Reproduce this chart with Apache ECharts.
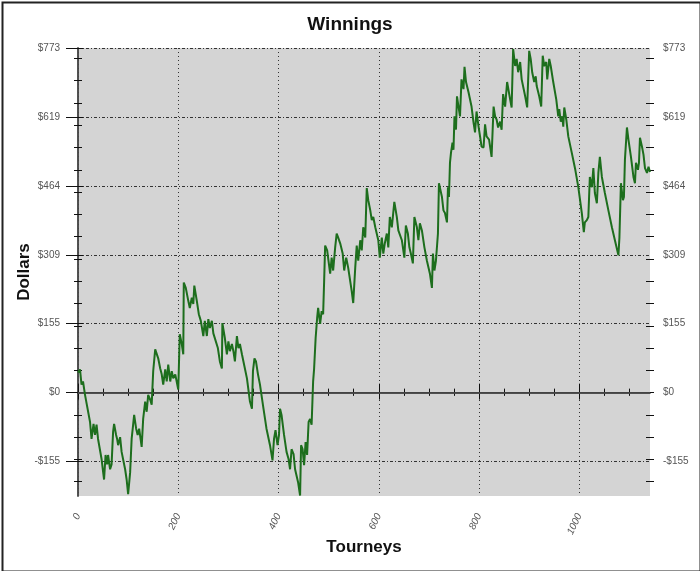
<!DOCTYPE html>
<html><head><meta charset="utf-8">
<script src="https://cdn.jsdelivr.net/npm/echarts@6/dist/echarts.min.js"></script>
<style>html,body{margin:0;padding:0;background:#fff}#c{width:700px;height:571px}</style>
</head><body><div id="c"></div>
<script>
const tourneys = [0,4,7,10,14,24,27,31,34,37,40,47,52,55,58,60,64,67,70,72,76,78,80,84,87,94,97,100,104,107,110,112,116,119,122,127,130,134,137,140,144,147,150,154,157,160,164,167,170,174,177,180,184,187,190,194,200,203,207,210,211,215,220,223,227,230,232,237,241,245,250,253,257,260,263,267,270,273,279,283,287,288,293,297,300,303,307,310,313,317,320,323,327,330,337,343,347,349,352,355,359,363,370,376,383,388,391,394,398,401,403,406,411,416,420,423,426,430,433,439,443,445,448,451,454,457,460,463,466,469,471,474,477,479,483,486,489,491,493,497,503,506,509,513,516,519,523,528,531,535,539,546,549,553,556,559,563,566,569,573,576,579,583,586,589,593,599,602,606,609,612,616,619,622,626,631,636,639,642,646,651,654,658,661,664,668,671,676,679,682,686,691,696,702,706,708,711,714,718,720,726,729,732,736,738,740,742,744,747,749,751,754,756,759,762,765,769,771,774,779,785,789,792,795,799,802,805,809,812,815,820,825,829,832,835,838,842,845,848,852,856,862,865,868,872,875,878,882,885,892,896,900,903,906,910,913,915,920,924,927,930,934,936,940,943,948,954,958,960,963,966,968,970,974,978,985,992,998,1005,1009,1011,1015,1018,1021,1025,1028,1031,1035,1038,1041,1045,1051,1058,1065,1071,1078,1080,1083,1087,1089,1091,1095,1098,1103,1108,1111,1113,1117,1119,1121,1125,1128,1131,1135,1138,1141];
const dollars = [45,52,18,25,-5,-66,-104,-70,-95,-72,-104,-149,-195,-140,-161,-140,-172,-161,-88,-70,-95,-104,-118,-100,-133,-172,-195,-228,-179,-104,-72,-50,-81,-95,-81,-122,-59,-20,-43,-5,-16,-27,48,97,93,77,54,41,18,52,25,63,25,48,32,41,7,131,109,86,247,235,206,190,213,199,240,206,176,161,127,161,127,165,145,161,133,131,100,70,54,156,122,86,115,93,109,93,70,127,100,109,86,70,32,-20,-36,48,77,70,41,18,-36,-81,-118,-152,-104,-84,-118,-95,-36,-50,-95,-133,-149,-172,-127,-138,-172,-201,-231,-118,-127,-163,-111,-140,-66,-59,-72,25,54,122,167,190,154,183,176,251,330,319,267,303,274,326,357,348,335,312,274,303,280,228,201,280,330,296,342,319,371,348,459,432,409,387,394,371,342,303,348,312,335,357,326,394,371,428,394,364,360,342,303,375,357,326,312,290,394,371,342,380,364,326,296,267,235,312,274,296,357,470,439,409,403,382,461,439,516,538,561,545,620,590,665,642,620,703,681,731,697,674,642,606,584,631,597,575,552,550,602,575,568,529,642,620,613,595,608,590,670,642,697,658,640,771,733,749,719,742,703,665,640,767,749,719,697,710,688,665,642,756,733,742,703,749,733,697,658,620,636,608,620,597,640,613,575,538,500,461,403,360,382,387,394,484,461,504,448,425,493,529,484,448,409,371,342,308,348,470,432,439,523,595,568,529,484,470,516,500,516,572,552,534,504,493,507,495];
const xTicks = [0,200,400,600,800,1000];
const xMinor = [0,50,100,150,200,250,300,350,400,450,500,550,600,650,700,750,800,850,900,950,1000,1050,1100];
const yTicks = [-154.68,0,154.68,309.36,464.04,618.72,773.4];
const yMinor = [-200,-150,-100,-50,0,50,100,150,200,250,300,350,400,450,500,550,600,650,700,750];
const xMin = 0, xMax = 1141, yMin = -232, yMax = 773.4;

const fmt = v => (v < -0.01 ? '-$' : '$') + Math.round(Math.abs(v));
const labelFont = {fontFamily: '"Liberation Sans Narrow", "Liberation Sans", Arial, sans-serif', fontSize: 10, color: '#555'};

function tickAxis(base, vals, inside, len, color) {
  return {
    type: 'value', min: base.min, max: base.max, position: base.position,
    axisLine: {show: false}, splitLine: {show: false}, axisLabel: {show: false},
    axisTick: {show: true, customValues: vals, inside: inside, length: len, lineStyle: {color: color, width: 1}}
  };
}

const option = {
  animation: false,
  backgroundColor: '#fff',
  title: {text: 'Winnings', left: 'center', top: 10,
    textStyle: {fontFamily: '"Liberation Sans", Arial, sans-serif', fontSize: 19, fontWeight: 'bold', color: '#111'}},
  grid: {left: 78, right: 50, top: 48, bottom: 75, show: true, backgroundColor: '#d4d4d4', borderWidth: 0},
  xAxis: [
    {type: 'value', min: xMin, max: xMax, position: 'bottom',
      name: 'Tourneys', nameLocation: 'middle', nameGap: 43, nameMoveOverlap: false,
      nameTextStyle: {fontFamily: '"Liberation Sans", Arial, sans-serif', fontSize: 17, fontWeight: 'bold', color: '#111'},
      axisLine: {show: true, lineStyle: {color: '#111', width: 1.5}},
      axisTick: {show: true, customValues: xTicks, inside: true, length: 9, lineStyle: {color: '#111'}},
      axisLabel: Object.assign({customValues: xTicks, rotate: 65, margin: 18, fontStyle: 'italic', formatter: v => String(v)}, labelFont),
      splitLine: {show: true, lineStyle: {color: '#333', width: 1, type: [1, 3]}}},
    tickAxis({min: xMin, max: xMax, position: 'bottom'}, xMinor, true, 4, '#111'),
    tickAxis({min: xMin, max: xMax, position: 'bottom'}, xMinor, false, 3, '#111'),
    {type: 'value', min: xMin, max: xMax, position: 'top',
      axisLine: {show: true, lineStyle: {color: '#111', width: 1.2}},
      axisTick: {show: true, customValues: xTicks, inside: true, length: 7, lineStyle: {color: '#111'}},
      axisLabel: {show: false}, splitLine: {show: false}},
    tickAxis({min: xMin, max: xMax, position: 'top'}, xMinor, true, 3, '#111')
  ],
  yAxis: [
    {type: 'value', min: yMin, max: yMax, position: 'left',
      name: 'Dollars', nameLocation: 'middle', nameGap: 45, nameMoveOverlap: false,
      nameTextStyle: {fontFamily: '"Liberation Sans", Arial, sans-serif', fontSize: 17, fontWeight: 'bold', color: '#111'},
      axisLine: {show: true, lineStyle: {color: '#111', width: 1.5}},
      axisTick: {show: true, customValues: yTicks, inside: false, length: 12, lineStyle: {color: '#111'}},
      axisLabel: Object.assign({customValues: yTicks, margin: 18, formatter: fmt}, labelFont),
      splitLine: {show: true, lineStyle: {color: '#333', width: 1, type: [3, 2, 1, 2]}}},
    tickAxis({min: yMin, max: yMax, position: 'left'}, yMinor, true, 4, '#111'),
    tickAxis({min: yMin, max: yMax, position: 'left'}, yMinor, false, 4, '#111'),
    {type: 'value', min: yMin, max: yMax, position: 'right',
      axisLine: {show: true, lineStyle: {color: '#555', width: 1.5}},
      axisTick: {show: true, customValues: yTicks, inside: false, length: 5, lineStyle: {color: '#111'}},
      axisLabel: Object.assign({customValues: yTicks, margin: 13, formatter: fmt}, labelFont),
      splitLine: {show: false}},
    tickAxis({min: yMin, max: yMax, position: 'right'}, yTicks, true, 9, '#111'),
    tickAxis({min: yMin, max: yMax, position: 'right'}, yMinor, true, 4, '#111'),
    tickAxis({min: yMin, max: yMax, position: 'right'}, yMinor, false, 4, '#111')
  ],
  graphic: [{type: 'rect', left: 0, top: 0, z: 100, silent: true,
    shape: {x: 0, y: 0, width: 698, height: 569}, style: {fill: 'none', stroke: '#222', lineWidth: 2}}],
  series: [{
    type: 'line', xAxisIndex: 0, yAxisIndex: 0, showSymbol: false,
    data: tourneys.map((t, i) => [t, dollars[i]]),
    lineStyle: {color: '#1d6e1d', width: 2},
    markLine: {silent: true, symbol: 'none', label: {show: false}, z: 1,
      lineStyle: {color: '#555', type: 'solid', width: 1.5},
      data: [{yAxis: 0}]}
  }]
};
const chart = echarts.init(document.getElementById('c'), null, {renderer: 'canvas'});
chart.setOption(option);
</script></body></html>
